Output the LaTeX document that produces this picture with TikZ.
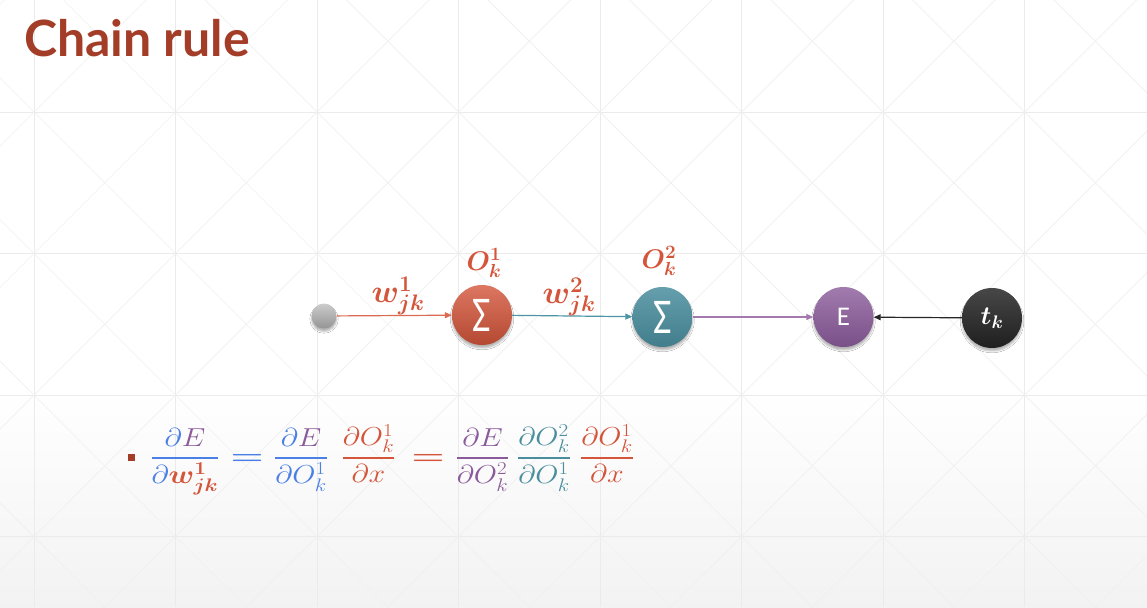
\RequirePackage{fix-cm}
\documentclass[tikz,border=0pt]{standalone}
\usepackage{amsmath,bm,graphicx}
\usepackage{fontspec}
\newfontfamily\titlefont{Lato}
\newfontfamily\calfont{Carlito}
\usetikzlibrary{arrows.meta,shadows.blur}
\definecolor{cred}{HTML}{D4553A}
\definecolor{cteal}{HTML}{4A8E9E}
\definecolor{cpurp}{HTML}{8A5A9A}
\definecolor{cblue}{HTML}{4A7FE6}
\definecolor{ctitle}{HTML}{A33D27}
\definecolor{gridc}{HTML}{EBEBEB}
\definecolor{diagc}{HTML}{F0F0F0}
\definecolor{lred}{HTML}{DC6A52}
\definecolor{lteal}{HTML}{4D94A4}
\definecolor{lpurp}{HTML}{A47AAE}
\newcommand{\dfr}[2]{\scalebox{1.15}[1]{$\displaystyle\genfrac{}{}{1.5pt}{0}{#1}{#2}$}}
\newcommand{\beq}{\scalebox{1.45}[1]{$\bm{=}$}}
\newcommand{\sumsym}{\scalebox{1}[1.25]{Σ}}
\tikzset{
  gridline/.style={draw=gridc, line width=0.8pt},
  diagline/.style={draw=diagc, line width=0.7pt},
  neuron/.style={circle, minimum size=60pt, inner sep=0pt, text=white,
    blur shadow={shadow xshift=0pt, shadow yshift=-3pt, shadow blur steps=6, shadow opacity=30}},
  conn/.style={line width=1.2pt, -{Triangle[length=7pt,width=6pt]}},
  lbl/.style={inner sep=0pt, text=cred, font=\fontsize{27}{30}\selectfont},
  wlbl/.style={inner sep=0pt, text=cred, font=\fontsize{32}{34}\selectfont},
  eqn/.style={inner sep=0pt, anchor=base, font=\fontsize{26}{30}\selectfont},
  sumfont/.style={font=\calfont\fontsize{40}{40}\selectfont},
}
\begin{document}
\begin{tikzpicture}[x=1pt,y=-1pt]
\useasboundingbox (0,0) rectangle (1147,607);
\fill[white] (0,0) rectangle (1147,607);
\shade[top color=white, bottom color=black!5] (0,390) rectangle (1147,607);
\begin{scope}
\clip (0,0) rectangle (1147,607);
\foreach \i in {-1,...,8} \draw[gridline] ({34+141.5*\i},0) -- ({34+141.5*\i},607);
\foreach \j in {-1,...,4} \draw[gridline] (0,{112+141.5*\j}) -- (1147,{112+141.5*\j});
\foreach \i in {-1,...,7} \foreach \j in {-1,...,3} {
  \draw[diagline] ({34+141.5*\i},{112+141.5*\j}) -- ++(141.5,141.5);
  \draw[diagline] ({34+141.5*(\i+1)},{112+141.5*\j}) -- ++(-141.5,141.5);
}
\end{scope}

\node[anchor=base west, inner sep=0pt, text=ctitle, font=\titlefont\bfseries\fontsize{50}{60}\selectfont] (title) at (24,57) {Chain rule};

\node[neuron, minimum size=25pt, top color=black!20, bottom color=black!42] (in) at (324,316) {};
\node[neuron, top color=cred!80!white, bottom color=cred!85!black, sumfont] (s1) at (482,315) {\sumsym};
\node[neuron, top color=cteal!85!white, bottom color=cteal!88!black, sumfont] (s2) at (662.5,317) {\sumsym};
\node[neuron, top color=cpurp!80!white, bottom color=cpurp!88!black, font=\calfont\fontsize{27}{27}\selectfont] (E) at (843.5,317) {E};
\node[neuron, top color=black!72, bottom color=black!88, font=\fontsize{26}{26}\selectfont] (t) at (992,318) {$\bm{t}_{\bm{k}}$};

\draw[conn, lred] (in) -- (s1);
\draw[conn, lteal] (s1) -- (s2);
\draw[conn, lpurp] (s2) -- (E);
\draw[conn, black!85] (t) -- (E);

\node[wlbl] (w1) at (398,296) {$\bm{w}^{\bm{1}}_{\bm{jk}}$};
\node[lbl] (o1) at (484,263) {$\bm{O}^{\bm{1}}_{\bm{k}}$};
\node[wlbl] (w2) at (569,297) {$\bm{w}^{\bm{2}}_{\bm{jk}}$};
\node[lbl] (o2) at (659,261) {$\bm{O}^{\bm{2}}_{\bm{k}}$};

\node[fill=ctitle, minimum size=7pt, inner sep=0pt] (bullet) at (131.5,457) {};
\node[eqn, text=cblue] (f1) at (185,464.5) {\dfr{\partial{\color{cpurp}E}}{\partial{\color{cred}\bm{w}^{\bm{1}}_{\bm{jk}}}}};
\node[eqn, text=cblue] (eq1) at (247,464.5) {\beq};
\node[eqn, text=cblue] (f2) at (301,464.5) {\dfr{\partial{\color{cpurp}E}}{\partial O^1_k}};
\node[eqn, text=cred] (f3) at (368.5,464.5) {\dfr{\partial O^1_k}{\partial x}};
\node[eqn, text=cred] (eq2) at (428,464.5) {\beq};
\node[eqn, text=cpurp] (f4) at (482.5,464.5) {\dfr{\partial E}{\partial O^2_k}};
\node[eqn, text=cteal] (f5) at (544,464.5) {\dfr{\partial O^2_k}{\partial O^1_k}};
\node[eqn, text=cred] (f6) at (607,464.5) {\dfr{\partial O^1_k}{\partial x}};
\end{tikzpicture}
\end{document}
